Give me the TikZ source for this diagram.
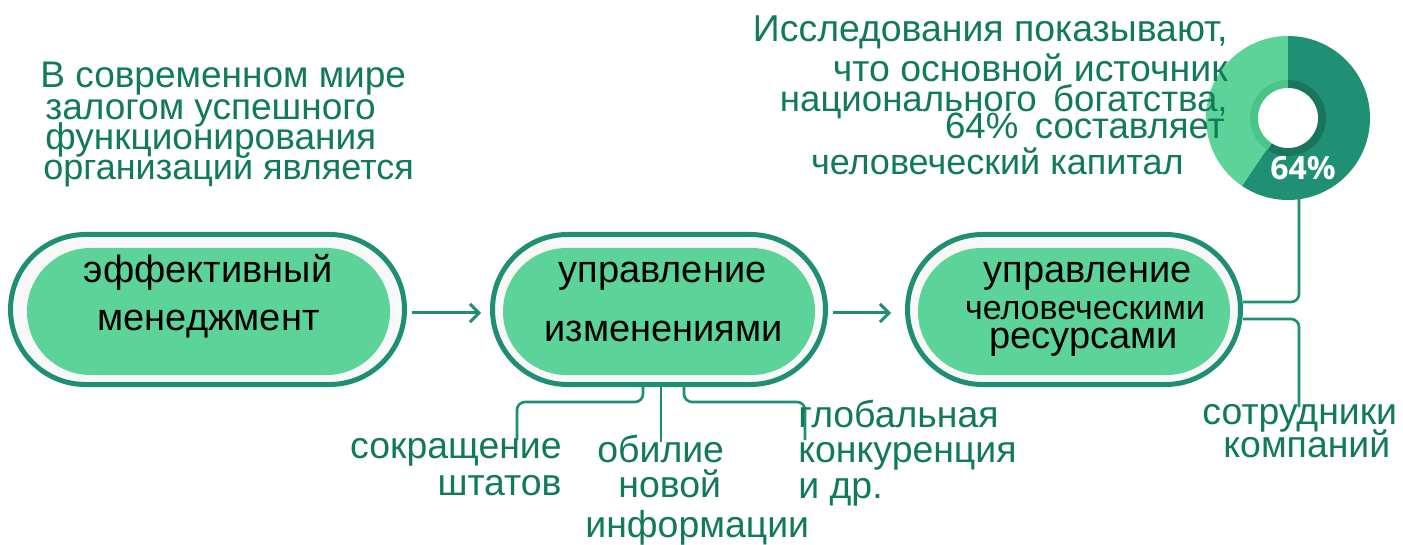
\documentclass[tikz,border=0pt]{standalone}
\usepackage{fontspec}
\setmainfont{Liberation Sans}
\newfontfamily\pctfont{Open Sans}
\usetikzlibrary{arrows.meta}
\definecolor{bord}{RGB}{31,143,115}
\definecolor{txtg}{RGB}{17,122,90}
\definecolor{fillg}{RGB}{92,211,153}
\definecolor{gapc}{RGB}{248,248,248}
\definecolor{darkg}{RGB}{32,144,116}
\definecolor{ringdark}{RGB}{26,117,94}
\definecolor{ringlight}{RGB}{76,195,137}
\tikzset{
  outerbox/.style={draw=bord, line width=2.5pt, fill=gapc, rounded corners=37.5pt, minimum height=75pt, inner sep=0pt},
  innerbox/.style={fill=fillg, rounded corners=31.75pt, minimum height=63.5pt, inner sep=0pt},
  ntext/.style={anchor=base, font=\fontsize{19}{22}\selectfont, inner sep=0pt},
  gtext/.style={text=txtg, font=\fontsize{18.7}{21}\selectfont, inner sep=0pt},
  conn/.style={draw=bord, line width=1.3pt, rounded corners=4pt},
  arr/.style={draw=bord, line width=1.5pt, -{Straight Barb[length=4.5pt,width=9pt]}}
}
\begin{document}
\begin{tikzpicture}[x=0.5pt,y=-0.5pt]
\useasboundingbox (0,0) rectangle (1403,545);
% donut (drawn first: the text lies over it)
\coordinate (dc) at (1288,118);
\fill[fillg] (dc) -- ++(90:41pt) arc[start angle=90,end angle=236,radius=41pt] -- cycle;
\fill[darkg] (dc) -- ++(90:41pt) arc[start angle=90,end angle=-124,radius=41pt] -- cycle;
\fill[ringlight] (dc) -- ++(90:19pt) arc[start angle=90,end angle=238,radius=19pt] -- cycle;
\fill[ringdark] (dc) -- ++(90:19pt) arc[start angle=90,end angle=-122,radius=19pt] -- cycle;
\fill[white] (dc) circle[radius=15pt];
\node[text=white, font=\pctfont\bfseries\fontsize{16}{18}\selectfont, inner sep=0pt] (pct) at (1303,168) {64\%};
% boxes
\node[outerbox, minimum width=197pt] (n1) at (207.5,309.5) {};
\node[innerbox, minimum width=181.5pt] (i1) at (208.5,311.5) {};
\node[outerbox, minimum width=166.5pt] (n2) at (659,309.5) {};
\node[innerbox, minimum width=156pt] (i2) at (659,311.5) {};
\node[outerbox, minimum width=166.5pt] (n3) at (1074,309.5) {};
\node[innerbox, minimum width=156pt] (i3) at (1074,311.5) {};
% box texts
\node[ntext] (t1a) at (208,283) {эффективный};
\node[ntext] (t1b) at (208.5,330) {менеджмент};
\node[ntext] (t2a) at (662.5,283) {управление};
\node[ntext] (t2b) at (663.5,342) {изменениями};
\node[ntext] (t3a) at (1087.5,283) {управление};
\node[ntext, font=\fontsize{17}{20}\selectfont] (t3b) at (1085,320) {человеческими};
\node[ntext] (t3c) at (1083.5,349) {ресурсами};
% arrows
\draw[arr, shorten <=2.5pt, shorten >=4.5pt] ([yshift=-1.75pt]n1.east) -- ([yshift=-1.75pt]n2.west);
\draw[arr, shorten <=2.5pt, shorten >=7pt] ([yshift=-1.75pt]n2.east) -- ([yshift=-1.75pt]n3.west);
% top-left text
\node[gtext, font=\fontsize{18.5}{21}\selectfont, anchor=base west] (l1) at (40,88) {В современном мире};
\node[gtext, font=\fontsize{18.5}{21}\selectfont, anchor=base west] (l2) at (45,120) {залогом успешного};
\node[gtext, font=\fontsize{18.5}{21}\selectfont, anchor=base west] (l3) at (45,150) {функционирования};
\node[gtext, font=\fontsize{18}{21}\selectfont, anchor=base west] (l4) at (43,180) {организаций является};
% top-right text
\node[gtext, anchor=base east] (r1) at (1228,42) {Исследования показывают,};
\node[gtext, anchor=base east] (r2) at (1228,82) {что основной источник};
\node[gtext, font=\fontsize{18.3}{21}\selectfont, anchor=base east] (r3) at (1228,112) {национального\hspace{0.45em}богатства,};
\node[gtext, font=\fontsize{18.3}{21}\selectfont, anchor=base east] (r4) at (1225,139) {64\%\hspace{0.45em}составляет};
\node[gtext, font=\fontsize{18}{21}\selectfont, anchor=base east] (r5) at (1184,175) {человеческий капитал};
% right connectors
\coordinate (dn) at (1299,199);
\coordinate (e2) at (1299,407);
\draw[conn] (dn) |- ([yshift=3.75pt]n3.east);
\draw[conn] ([yshift=-4.75pt]n3.east) -| (e2);
\node[gtext, anchor=base west] (s1) at (1202,424) {сотрудники};
\node[gtext, anchor=base west] (s2) at (1223,457) {компаний};
% bottom connectors
\coordinate (b1) at (517,440);
\coordinate (b2) at (661,442);
\coordinate (b3) at (805,440);
\draw[conn] ([xshift=-8pt]n2.south) -- ++(0,15) -| (b1);
\draw[conn] (n2.south -| b2) -- (b2);
\draw[conn] ([xshift=12.5pt]n2.south) -- ++(0,15) -| (b3);
% bottom texts
\node[gtext, anchor=base east] (c1) at (562,458) {сокращение};
\node[gtext, anchor=base east] (c2) at (562,495) {штатов};
\node[gtext, anchor=base west] (m1) at (597,462) {обилие};
\node[gtext, anchor=base west] (m2) at (618,497) {новой};
\node[gtext, anchor=base west] (m3) at (585,537) {информации};
\node[gtext, anchor=base west] (g1) at (798,427) {глобальная};
\node[gtext, anchor=base west] (g2) at (798,462) {конкуренция};
\node[gtext, anchor=base west] (g3) at (798,498) {и др.};
\end{tikzpicture}
\end{document}
